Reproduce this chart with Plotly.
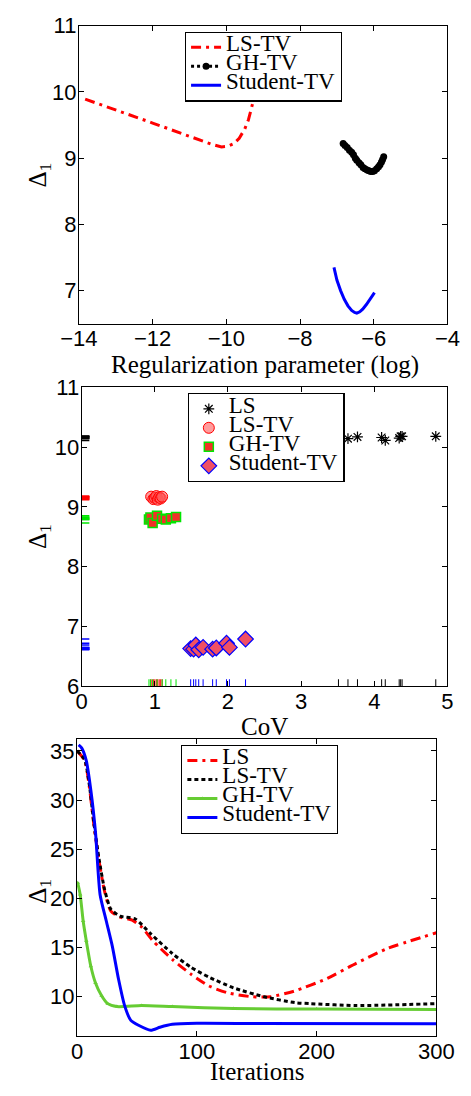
import plotly.graph_objects as go

# ---------------- Data ----------------
# Panel 1: Delta_1 vs regularization parameter (log)
lstv_reg_x = [-13.83, -13.0, -12.0, -11.0, -10.4, -10.13, -9.95, -9.79, -9.65, -9.5, -9.4, -9.33, -9.25, -9.17, -9.05, -8.9]
lstv_reg_y = [9.89, 9.73, 9.53, 9.33, 9.21, 9.17, 9.18, 9.22, 9.30, 9.44, 9.58, 9.73, 9.90, 10.08, 10.35, 10.7]
ghtv_reg_x = [-6.83, -6.78, -6.72, -6.66, -6.60, -6.55, -6.50, -6.46, -6.40, -6.35, -6.29, -6.24, -6.18, -6.13, -6.08, -6.03, -5.98, -5.92, -5.87, -5.83, -5.79, -5.76, -5.73]
ghtv_reg_y = [9.22, 9.19, 9.16, 9.12, 9.09, 9.05, 9.00, 8.97, 8.93, 8.90, 8.86, 8.84, 8.82, 8.81, 8.80, 8.80, 8.81, 8.84, 8.87, 8.90, 8.94, 8.98, 9.02]
sttv_reg_x = [-7.08, -7.0, -6.9, -6.8, -6.7, -6.6, -6.52, -6.46, -6.38, -6.3, -6.2, -6.1, -5.98]
sttv_reg_y = [7.35, 7.16, 7.00, 6.87, 6.77, 6.70, 6.67, 6.66, 6.68, 6.72, 6.79, 6.87, 6.97]

# Panel 2: Delta_1 vs CoV
ls_cov_x = [3.51, 3.64, 3.77, 4.10, 4.15, 4.34, 4.36, 4.38, 4.84]
ls_cov_y = [10.15, 10.14, 10.17, 10.16, 10.11, 10.15, 10.18, 10.18, 10.18]
lstv_cov_x = [0.95, 0.98, 1.00, 1.02, 1.04, 1.06, 1.08, 1.10]
lstv_cov_y = [9.17, 9.13, 9.15, 9.18, 9.12, 9.16, 9.14, 9.17]
ghtv_cov_x = [0.92, 0.94, 0.97, 1.03, 1.10, 1.15, 1.22, 1.29]
ghtv_cov_y = [8.79, 8.82, 8.73, 8.85, 8.80, 8.79, 8.81, 8.83]
sttv_cov_x = [1.49, 1.53, 1.56, 1.60, 1.66, 1.79, 1.84, 1.98, 2.02, 2.24]
sttv_cov_y = [6.63, 6.62, 6.69, 6.61, 6.65, 6.62, 6.64, 6.72, 6.65, 6.79]

# Panel 3: Delta_1 vs iterations
ls_it_x = [0, 6.4, 10.3, 14.1, 18.5, 23, 28.2, 35.9, 46, 53.8, 64, 79.5, 95, 110, 125.6, 146, 161.5, 182, 207.7, 233, 259, 300]
ls_it_y = [35.0, 34.0, 31.3, 27.4, 23.7, 20.7, 18.7, 18.1, 17.8, 17.1, 15.6, 13.8, 12.3, 11.1, 10.4, 10.0, 10.0, 10.6, 11.8, 13.4, 14.9, 16.5]
lstv_it_x = [0, 6.4, 10.3, 14.1, 18.5, 23, 28.2, 35.9, 48.7, 61.5, 79.5, 95, 110, 130.8, 156, 182, 195, 233, 300]
lstv_it_y = [35.0, 34.1, 31.5, 27.6, 23.9, 20.9, 18.9, 18.2, 17.9, 16.4, 14.4, 13.0, 12.0, 10.9, 10.0, 9.4, 9.3, 9.1, 9.3]
ghtv_it_x = [0.5, 2.6, 5.1, 7.7, 11.5, 15.4, 20.5, 25.6, 33.3, 53.8, 79.5, 130.8, 200, 300]
ghtv_it_y = [21.6, 20.4, 17.7, 15.7, 13.1, 11.4, 10.1, 9.3, 9.0, 9.1, 9.0, 8.8, 8.75, 8.7]
sttv_it_x = [1.3, 3.8, 7.7, 11.5, 15.4, 19.2, 24.4, 29.5, 34.6, 39.7, 44.9, 51.3, 61.5, 69.2, 79.5, 100, 150, 300]
sttv_it_y = [35.6, 35.3, 34.0, 31.0, 26.7, 20.4, 17.7, 15.1, 11.8, 9.1, 7.6, 7.1, 6.6, 6.9, 7.2, 7.3, 7.28, 7.25]

# ---------------- Styles ----------------
SANS = "Liberation Sans, Arial, sans-serif"
SERIF = "Liberation Serif, Times New Roman, serif"
RED = "rgb(255,0,0)"
BLUE = "rgb(0,0,255)"
GREEN_MK = "rgb(0,230,0)"
GREEN_LN = "rgb(102,204,51)"
DASHDOT = "10px,5px,3px,5px"


def lg(name):
    return '<span style="font-size:23px">' + name + '</span>'


fig = go.Figure()

# Panel 1
fig.add_trace(go.Scatter(x=lstv_reg_x, y=lstv_reg_y, mode="lines", name=lg("LS-TV"),
                         line=dict(color=RED, width=3, dash=DASHDOT),
                         xaxis="x", yaxis="y", legend="legend"))
fig.add_trace(go.Scatter(x=ghtv_reg_x, y=ghtv_reg_y, mode="lines+markers", name=lg("GH-TV"),
                         line=dict(color="black", width=3, dash="dot"),
                         marker=dict(color="black", size=7, symbol="circle"),
                         xaxis="x", yaxis="y", legend="legend"))
fig.add_trace(go.Scatter(x=sttv_reg_x, y=sttv_reg_y, mode="lines", name=lg("Student-TV"),
                         line=dict(color=BLUE, width=3),
                         xaxis="x", yaxis="y", legend="legend"))

# Panel 2 scatter
fig.add_trace(go.Scatter(x=ls_cov_x, y=ls_cov_y, mode="markers", name=lg("LS"),
                         marker=dict(symbol="asterisk-open", size=9, color="black",
                                     line=dict(color="black", width=1.2)),
                         xaxis="x2", yaxis="y2", legend="legend2"))
fig.add_trace(go.Scatter(x=lstv_cov_x, y=lstv_cov_y, mode="markers", name=lg("LS-TV"),
                         marker=dict(symbol="circle", size=11, color="rgba(255,90,90,0.6)",
                                     line=dict(color=RED, width=1)),
                         xaxis="x2", yaxis="y2", legend="legend2"))
fig.add_trace(go.Scatter(x=ghtv_cov_x, y=ghtv_cov_y, mode="markers", name=lg("GH-TV"),
                         marker=dict(symbol="square", size=9, color="rgb(240,50,40)",
                                     line=dict(color=GREEN_MK, width=1.5)),
                         xaxis="x2", yaxis="y2", legend="legend2"))
fig.add_trace(go.Scatter(x=sttv_cov_x, y=sttv_cov_y, mode="markers", name=lg("Student-TV"),
                         marker=dict(symbol="diamond", size=12, color="rgb(240,80,100)",
                                     line=dict(color=BLUE, width=1.2)),
                         xaxis="x2", yaxis="y2", legend="legend2"))
# Panel 2 rugs
for xs, ys, col in [(ls_cov_x, ls_cov_y, "black"), (lstv_cov_x, lstv_cov_y, RED),
                    (ghtv_cov_x, ghtv_cov_y, GREEN_MK), (sttv_cov_x, sttv_cov_y, BLUE)]:
    fig.add_trace(go.Scatter(x=xs, y=[6] * len(xs), mode="markers", showlegend=False,
                             marker=dict(symbol="line-ns", size=10, line=dict(color=col, width=1)),
                             xaxis="x2", yaxis="y2", hoverinfo="skip"))
    fig.add_trace(go.Scatter(x=[0] * len(ys), y=ys, mode="markers", showlegend=False,
                             marker=dict(symbol="line-ew", size=11, line=dict(color=col, width=1.5)),
                             xaxis="x2", yaxis="y2", hoverinfo="skip"))

# Panel 3
fig.add_trace(go.Scatter(x=ls_it_x, y=ls_it_y, mode="lines", name=lg("LS"),
                         line=dict(color=RED, width=3, dash=DASHDOT, shape="spline", smoothing=0.6),
                         xaxis="x3", yaxis="y3", legend="legend3"))
fig.add_trace(go.Scatter(x=lstv_it_x, y=lstv_it_y, mode="lines", name=lg("LS-TV"),
                         line=dict(color="black", width=3, dash="4px,3px", shape="spline", smoothing=0.6),
                         xaxis="x3", yaxis="y3", legend="legend3"))
fig.add_trace(go.Scatter(x=ghtv_it_x, y=ghtv_it_y, mode="lines+markers", name=lg("GH-TV"),
                         line=dict(color=GREEN_LN, width=3, shape="spline", smoothing=0.6),
                         marker=dict(symbol="triangle-up", size=4, color=GREEN_LN),
                         xaxis="x3", yaxis="y3", legend="legend3"))
fig.add_trace(go.Scatter(x=sttv_it_x, y=sttv_it_y, mode="lines", name=lg("Student-TV"),
                         line=dict(color=BLUE, width=3, shape="spline", smoothing=0.6),
                         xaxis="x3", yaxis="y3", legend="legend3"))

W, H = 471, 1096


def px_dom_x(a, b):
    return [a / W, b / W]


def px_dom_y(top, bottom):
    return [1 - bottom / H, 1 - top / H]


def ax(domain, rng, dtick, anchor, standoff):
    return dict(domain=domain, range=rng, dtick=dtick, anchor=anchor,
                showline=True, linecolor="black", linewidth=1.2, mirror="ticks",
                ticks="inside", ticklen=5, tickcolor="black", tickwidth=1,
                showgrid=False, zeroline=False, ticklabelstandoff=standoff,
                ticklabeloverflow="allow",
                tickfont=dict(family=SANS, size=22, color="black"))


leg_common = dict(font=dict(family=SERIF, size=10, color="black"),
                  bgcolor="white", bordercolor="black", borderwidth=1.2,
                  xanchor="left", yanchor="top", tracegroupgap=0,
                  itemwidth=30)

fig.update_layout(
    width=W, height=H, margin=dict(l=0, r=0, t=0, b=0),
    paper_bgcolor="white", plot_bgcolor="white",
    xaxis=ax(px_dom_x(65, 465), [-14, -4], 2, "y", -5),
    yaxis=ax(px_dom_y(14, 319), [6.5, 11], 1, "x", -3),
    xaxis2=ax(px_dom_x(68, 465), [0, 5], 1, "y2", -5),
    yaxis2=ax(px_dom_y(384, 690), [6, 11], 1, "x2", -3),
    xaxis3=ax(px_dom_x(63, 453), [0, 300], 100, "y3", -5),
    yaxis3=ax(px_dom_y(744, 1048), [6, 36.2], 5, "x3", -3),
    legend=dict(leg_common, x=180 / W, y=1 - 20 / H),
    legend2=dict(leg_common, x=183 / W, y=1 - 390 / H),
    legend3=dict(leg_common, x=176 / W, y=1 - 750 / H),
    showlegend=True,
)
fig.layout.yaxis.tickvals = [7, 8, 9, 10, 11]
fig.layout.yaxis3.tickvals = [10, 15, 20, 25, 30, 35]

title_font = dict(family=SERIF, size=25, color="black")
annots = [
    dict(text="Regularization parameter (log)", x=267 / W, y=1 - 361 / H),
    dict(text="CoV", x=266 / W, y=1 - 731 / H),
    dict(text="Iterations", x=258 / W, y=1 - 1084 / H),
]
for a in annots:
    fig.add_annotation(xref="paper", yref="paper", showarrow=False, font=title_font,
                       xanchor="center", yanchor="middle", **a)
for yc in [167, 537, 900]:
    fig.add_annotation(xref="paper", yref="paper", showarrow=False, font=title_font,
                       text="Δ<sub>1</sub>", textangle=-90, x=22 / W, y=1 - yc / H,
                       xanchor="center", yanchor="middle")

fig.write_html("out.html")
